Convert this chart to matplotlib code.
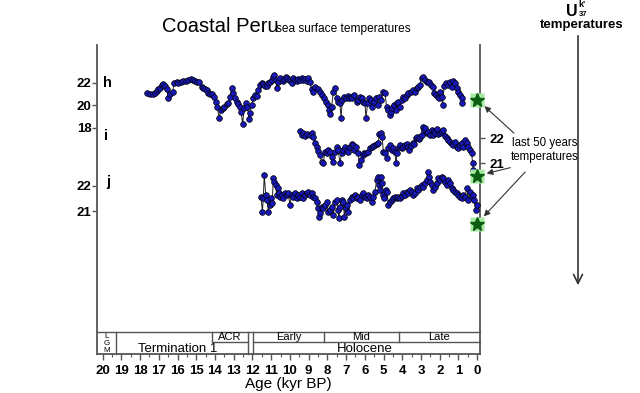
import matplotlib
matplotlib.use('Agg')
import matplotlib.pyplot as plt
import numpy as np

plt.rcParams['font.family'] = ['Liberation Sans', 'DejaVu Sans']

# h record (age kyr BP, SST degC)
h_age = [17.61, 17.47, 17.33, 17.20, 17.11, 17.03, 16.94, 16.85, 16.76, 16.67, 16.58, 16.49, 16.40, 16.26,
         16.19, 16.05, 15.96, 15.83, 15.69, 15.55, 15.42, 15.30, 15.19, 15.07, 14.98, 14.84, 14.71, 14.62,
         14.53, 14.44, 14.36, 14.27, 14.18, 14.05, 13.95, 13.88, 13.77, 13.70, 13.59, 13.50, 13.38, 13.29,
         13.20, 13.11, 13.02, 12.93, 12.84, 12.75, 12.67, 12.61, 12.52, 12.45, 12.34, 12.27, 12.18, 12.13,
         12.04, 11.95, 11.86, 11.78, 11.69, 11.60, 11.51, 11.42, 11.33, 11.24, 11.15, 11.06, 10.97, 10.89,
         10.83, 10.74, 10.71, 10.62, 10.53, 10.39, 10.30, 10.21, 10.14, 10.03, 9.96, 9.91, 9.82, 9.73,
         9.64, 9.55, 9.46, 9.37, 9.28, 9.19, 9.11, 9.02, 8.93, 8.84, 8.75, 8.66, 8.52, 8.39, 8.27, 8.16,
         8.09, 7.98, 7.91, 7.86, 7.77, 7.68, 7.59, 7.50, 7.42, 7.33, 7.27, 7.20, 7.10, 7.02, 6.92, 6.85,
         6.74, 6.67, 6.56, 6.44, 6.35, 6.26, 6.17, 6.08, 5.99, 5.94, 5.85, 5.78, 5.67, 5.60, 5.49, 5.42,
         5.32, 5.24, 5.14, 5.01, 4.92, 4.84, 4.75, 4.66, 4.60, 4.53, 4.43, 4.36, 4.30, 4.21, 4.12, 4.03,
         3.95, 3.86, 3.77, 3.68, 3.54, 3.41, 3.32, 3.23, 3.14, 3.06, 2.97, 2.88, 2.79, 2.70, 2.58, 2.47,
         2.38, 2.29, 2.22, 2.11, 2.04, 1.99, 1.90, 1.85, 1.76, 1.69, 1.58, 1.45, 1.37, 1.28, 1.19, 1.10,
         1.01, 0.92, 0.83, 0.80]
h_temp = [21.05, 20.97, 20.97, 21.05, 21.26, 21.44, 21.56, 21.80, 21.88, 21.74, 21.44, 20.61, 20.97, 21.20,
          21.94, 22.09, 21.94, 22.03, 22.15, 22.18, 22.24, 22.33, 22.24, 22.18, 22.09, 22.03, 21.65, 21.50,
          21.44, 21.35, 21.05, 20.97, 20.97, 20.76, 20.31, 19.81, 18.83, 19.57, 19.72, 19.87, 20.08, 20.17,
          20.76, 21.50, 21.05, 20.61, 20.31, 20.08, 19.87, 19.42, 18.30, 19.72, 20.17, 19.87, 18.77, 19.28,
          20.02, 20.61, 20.91, 20.85, 21.35, 21.80, 21.94, 21.85, 21.74, 21.74, 21.94, 22.09, 22.24, 22.54,
          22.68, 22.24, 21.56, 22.09, 22.39, 22.15, 22.33, 22.54, 22.39, 22.24, 22.15, 21.94, 22.39, 22.24,
          22.15, 22.33, 22.24, 22.39, 22.24, 22.33, 22.15, 22.39, 22.03, 21.44, 21.20, 21.65, 21.44, 21.20,
          20.91, 20.61, 20.31, 20.02, 19.57, 19.19, 19.87, 21.20, 21.50, 20.61, 20.31, 20.17, 18.83, 20.46,
          20.76, 20.61, 20.85, 20.61, 20.76, 20.61, 20.91, 20.31, 20.46, 20.76, 20.61, 20.31, 20.17, 18.89,
          20.17, 20.61, 20.46, 19.87, 20.31, 20.61, 20.02, 20.76, 20.46, 21.20, 21.05, 19.87, 19.57, 19.13,
          19.42, 19.72, 20.02, 19.57, 20.17, 20.31, 19.87, 20.46, 20.76, 20.61, 20.91, 21.05, 21.20, 21.35,
          21.20, 21.50, 21.65, 21.80, 22.45, 22.54, 22.24, 22.09, 22.03, 21.80, 21.65, 21.05, 20.91, 20.76,
          20.61, 21.20, 20.76, 20.02, 21.74, 21.94, 21.80, 22.09, 21.65, 22.15, 21.94, 21.50, 21.20, 20.91,
          20.61, 20.17]

# i record
i_age = [9.46, 9.37, 9.28, 9.20, 9.07, 8.93, 8.84, 8.75, 8.66, 8.57, 8.48, 8.40, 8.31, 8.22, 8.13, 8.04,
         7.95, 7.86, 7.77, 7.68, 7.59, 7.50, 7.42, 7.33, 7.24, 7.15, 7.06, 6.97, 6.88, 6.79, 6.70, 6.65,
         6.58, 6.47, 6.35, 6.30, 6.22, 6.12, 6.05, 5.94, 5.81, 5.72, 5.64, 5.55, 5.46, 5.37, 5.28, 5.23,
         5.16, 5.08, 5.01, 4.92, 4.83, 4.75, 4.66, 4.57, 4.48, 4.39, 4.34, 4.27, 4.20, 4.12, 4.03, 3.95,
         3.86, 3.77, 3.68, 3.63, 3.55, 3.45, 3.38, 3.27, 3.20, 3.13, 3.06, 2.97, 2.91, 2.84, 2.77, 2.70,
         2.61, 2.52, 2.43, 2.38, 2.31, 2.24, 2.17, 2.08, 1.99, 1.90, 1.81, 1.72, 1.63, 1.55, 1.45, 1.37,
         1.28, 1.19, 1.10, 1.01, 0.92, 0.83, 0.74, 0.65, 0.56, 0.48, 0.39, 0.30, 0.24, 0.21, 0.17]
i_temp = [22.31, 22.13, 22.20, 22.09, 22.17, 22.13, 22.20, 22.07, 21.80, 21.67, 21.51, 21.33, 21.07, 21.00,
          21.47, 21.40, 21.53, 21.47, 21.27, 21.07, 21.47, 21.67, 21.53, 21.00, 21.40, 21.53, 21.64, 21.53,
          21.47, 21.67, 21.77, 21.73, 21.53, 21.64, 21.40, 20.93, 21.13, 21.33, 21.43, 21.40, 21.47, 21.60,
          21.67, 21.69, 21.73, 21.77, 21.80, 22.17, 22.20, 22.07, 21.47, 21.40, 21.20, 21.60, 21.73, 21.53,
          21.60, 21.47, 21.00, 21.40, 21.67, 21.73, 21.60, 21.67, 21.73, 21.77, 21.64, 21.53, 21.69, 21.83,
          21.77, 22.00, 22.04, 21.96, 22.07, 22.13, 22.44, 22.33, 22.40, 22.20, 22.27, 22.13, 22.33, 22.13,
          22.31, 22.20, 22.36, 22.17, 22.20, 22.27, 22.33, 22.09, 22.00, 21.93, 21.87, 21.77, 21.73, 21.87,
          21.67, 21.60, 21.73, 21.80, 21.67, 21.93, 21.80, 21.64, 21.53, 21.40, 21.00, 20.73, 20.60]

# j record
j_age = [11.54, 11.47, 11.42, 11.37, 11.29, 11.22, 11.15, 11.06, 11.01, 10.94, 10.89, 10.83, 10.76, 10.71,
         10.65, 10.58, 10.53, 10.44, 10.35, 10.26, 10.17, 10.08, 10.00, 9.91, 9.82, 9.73, 9.64, 9.55, 9.46,
         9.37, 9.28, 9.19, 9.11, 9.02, 8.93, 8.84, 8.75, 8.66, 8.57, 8.52, 8.45, 8.38, 8.30, 8.22, 8.13,
         8.04, 7.95, 7.86, 7.77, 7.68, 7.59, 7.50, 7.45, 7.38, 7.33, 7.24, 7.15, 7.09, 7.02, 6.95, 6.88,
         6.79, 6.70, 6.61, 6.52, 6.44, 6.35, 6.26, 6.17, 6.08, 5.99, 5.90, 5.81, 5.72, 5.63, 5.55, 5.46,
         5.37, 5.31, 5.24, 5.19, 5.14, 5.07, 5.01, 4.96, 4.89, 4.82, 4.74, 4.66, 4.57, 4.48, 4.39, 4.30,
         4.21, 4.12, 4.03, 3.94, 3.86, 3.77, 3.68, 3.59, 3.50, 3.41, 3.32, 3.23, 3.14, 3.05, 2.97, 2.88,
         2.79, 2.70, 2.65, 2.57, 2.52, 2.43, 2.34, 2.25, 2.17, 2.08, 1.99, 1.90, 1.81, 1.72, 1.63, 1.54,
         1.45, 1.36, 1.27, 1.19, 1.10, 1.01, 0.92, 0.83, 0.74, 0.65, 0.56, 0.47, 0.39, 0.30, 0.21, 0.15,
         0.08, 0.03]
j_temp = [21.57, 20.97, 21.51, 22.44, 21.64, 21.44, 20.97, 21.24, 21.51, 21.31, 22.31, 22.17, 22.04, 21.64,
          21.91, 21.71, 21.57, 21.64, 21.51, 21.71, 21.64, 21.71, 21.24, 21.64, 21.57, 21.71, 21.51, 21.64,
          21.57, 21.71, 21.51, 21.64, 21.71, 21.77, 21.64, 21.71, 21.57, 21.51, 21.37, 21.11, 20.77, 20.91,
          21.17, 21.11, 21.24, 21.37, 20.97, 21.04, 21.17, 20.84, 21.37, 21.44, 21.04, 20.71, 21.17, 21.44,
          21.37, 20.77, 21.11, 21.24, 20.97, 21.44, 21.57, 21.51, 21.64, 21.51, 21.57, 21.44, 21.64, 21.71,
          21.57, 21.51, 21.64, 21.57, 21.37, 21.57, 21.77, 22.24, 22.37, 22.04, 21.84, 22.37, 22.11, 21.64,
          21.51, 21.84, 21.77, 21.24, 21.37, 21.44, 21.51, 21.57, 21.51, 21.57, 21.51, 21.61, 21.71, 21.64,
          21.77, 21.71, 21.84, 21.77, 21.64, 21.71, 21.91, 21.84, 21.97, 22.04, 21.97, 22.11, 22.24, 22.57,
          22.37, 22.17, 22.04, 21.84, 21.97, 22.11, 22.31, 22.24, 22.37, 22.31, 22.17, 22.04, 22.24, 22.11,
          21.91, 21.84, 21.77, 21.71, 21.64, 21.57, 21.51, 21.64, 21.57, 21.91, 21.44, 21.77, 21.57, 21.64,
          21.44, 21.04, 21.24]

# last 50 years (star) temperatures at age 0
star_age = 0.0
star_h, star_i, star_j = 20.5, 20.5, 20.5

# stratigraphic boundaries (kyr BP)
lgm_end = 19.3
acr_start, acr_end = 14.15, 12.25
holo_start = 11.95
early_mid, mid_late = 8.2, 4.2

W, H = 640, 393
def fx(px):
    return px / W
def fy(py):
    return 1 - py / H

fig = plt.figure(figsize=(6.4, 3.93), dpi=100)
rect = [fx(97), fy(354), fx(480) - fx(97), fy(45) - fy(354)]
frame_col = '#555555'

ax = fig.add_axes(rect)
ax.set_xlim(20.3, -0.15)
ax.set_ylim(0, 1)
ax.spines['top'].set_visible(False)
for s in ['left', 'right', 'bottom']:
    ax.spines[s].set_color(frame_col)
    ax.spines[s].set_linewidth(1.3)
ax.set_yticks([])
ax.set_xticks(range(0, 21))
ax.set_xticks(np.arange(0.5, 20, 1), minor=True)
ax.tick_params(axis='x', which='major', direction='out', length=4, width=1, pad=4,
               labelsize=9.5, color=frame_col)
ax.tick_params(axis='x', which='minor', direction='out', length=2.5, width=0.8, color=frame_col)
for lab in ax.get_xticklabels():
    lab.set_fontweight('bold')
ax.set_xlabel('Age (kyr BP)', fontsize=11, labelpad=0)


def series_axes(ylim, side):
    a = fig.add_axes(rect, sharex=ax)
    a.patch.set_visible(False)
    for s in a.spines.values():
        s.set_visible(False)
    a.set_ylim(*ylim)
    a.tick_params(axis='x', which='both', bottom=False, labelbottom=False)
    a.yaxis.set_ticks_position(side)
    a.tick_params(axis='y', direction='out', length=3.5, width=1, color=frame_col,
                  labelsize=9.5, pad=0.5 if side == 'left' else 3)
    return a


ah = series_axes((-2.12, 25.35), 'left')
ah.set_yticks([18, 20, 22])
aj = series_axes((15.28, 27.64), 'left')
aj.set_yticks([21, 22])
ai = series_axes((13.37, 25.73), 'right')
ai.set_yticks([21, 22])
for a in (ah, ai, aj):
    for lab in a.get_yticklabels():
        lab.set_fontweight('bold')

style = dict(color='#222222', lw=0.7, marker='o', ms=4.1, mfc='#1818b8', mec='black', mew=0.5)
for a, xs, ys, st in [(ah, h_age, h_temp, star_h), (ai, i_age, i_temp, star_i), (aj, j_age, j_temp, star_j)]:
    a.plot(xs, ys, **style)
    a.plot([star_age], [st], 's', ms=9.5, color='#a6e8a0', mec='none', clip_on=False, zorder=4)
    a.plot([star_age], [st], '*', ms=10, color='#0b5d12', mec='#0b5d12', clip_on=False, zorder=5)

ah.text(19.72, 22.0, 'h', fontsize=10.5, fontweight='bold', ha='center', va='center')
ai.text(19.8, 22.1, 'i', fontsize=10.5, fontweight='bold', ha='center', va='center')
aj.text(19.72, 22.15, 'j', fontsize=10.5, fontweight='bold', ha='center', va='center')

# stratigraphic box
tr = ax.get_xaxis_transform()
yt, ym = 0.0712, 0.0388
lk = dict(color=frame_col, lw=1.0, transform=tr, clip_on=False)
ax.plot([20.3, -0.15], [yt, yt], **lk)
ax.plot([lgm_end, lgm_end], [0, yt], **lk)
ax.plot([acr_end, acr_end], [0, yt], **lk)
ax.plot([holo_start, holo_start], [0, yt], **lk)
ax.plot([acr_start, acr_start], [ym, yt], **lk)
ax.plot([acr_start, acr_end], [ym, ym], **lk)
ax.plot([holo_start, -0.15], [ym, ym], **lk)
ax.plot([early_mid, early_mid], [ym, yt], **lk)
ax.plot([mid_late, mid_late], [ym, yt], **lk)

for k, ch in enumerate('LGM'):
    ax.text((20.3 + lgm_end) / 2, 0.058 - k * 0.0235, ch, transform=tr, fontsize=5.8,
            ha='center', va='center')
ax.text(16.0, 0.017, 'Termination 1', transform=tr, fontsize=9.5, ha='center', va='center')
ax.text((acr_start + acr_end) / 2, 0.056, 'ACR', transform=tr, fontsize=8, ha='center', va='center')
ax.text(6.0, 0.017, 'Holocene', transform=tr, fontsize=9.5, ha='center', va='center')
ax.text((holo_start + early_mid) / 2, 0.056, 'Early', transform=tr, fontsize=8, ha='center', va='center')
ax.text((early_mid + mid_late) / 2, 0.056, 'Mid', transform=tr, fontsize=8, ha='center', va='center')
ax.text((mid_late - 0.15) / 2, 0.056, 'Late', transform=tr, fontsize=8, ha='center', va='center')

# titles
fig.text(fx(162), fy(32), 'Coastal Peru', fontsize=14.5, va='baseline')
fig.text(fx(276), fy(32), 'sea surface temperatures', fontsize=8.6, va='baseline')
fig.text(fx(566), fy(11), 'U', fontsize=11.5, fontweight='bold', ha='left', va='center')
fig.text(fx(578.5), fy(4.5), "k'", fontsize=6.5, fontweight='bold', ha='left', va='center')
fig.text(fx(579), fy(14.5), '37', fontsize=5.5, fontweight='bold', ha='left', va='center')
fig.text(fx(582), fy(25), 'temperatures', fontsize=9.5, fontweight='bold', ha='center', va='center')
ax.annotate('', xy=(fx(578), fy(288)), xytext=(fx(578), fy(33)), xycoords='figure fraction',
            textcoords='figure fraction',
            arrowprops=dict(arrowstyle='->', color='#333333', lw=1.2, mutation_scale=16))

fig.text(fx(545), fy(150), 'last 50 years\ntemperatures', fontsize=8.3,
         ha='center', va='center', linespacing=1.25)
arrow = dict(arrowstyle='-|>', color='#333333', lw=0.8, mutation_scale=9, shrinkB=7)
ah.annotate('', xy=(star_age, star_h), xytext=(fx(516), fy(135)), textcoords='figure fraction',
            arrowprops=arrow, annotation_clip=False)
ai.annotate('', xy=(star_age, star_i), xytext=(fx(513), fy(167)), textcoords='figure fraction',
            arrowprops=arrow, annotation_clip=False)
aj.annotate('', xy=(star_age, star_j), xytext=(fx(527), fy(170)), textcoords='figure fraction',
            arrowprops=arrow, annotation_clip=False)

fig.savefig('out.png', dpi=100)
